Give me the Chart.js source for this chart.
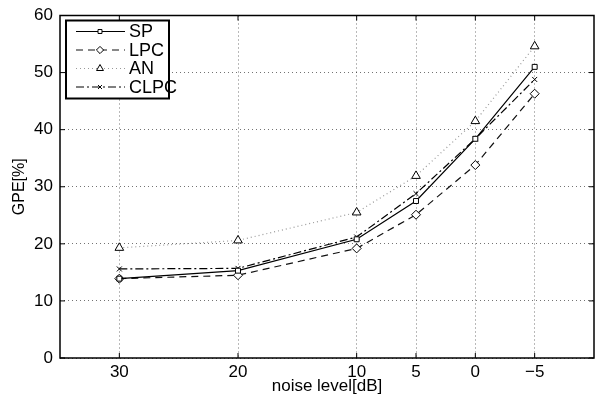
<!DOCTYPE html>
<html>
<head>
<meta charset="utf-8">
<script src="https://cdn.jsdelivr.net/npm/chart.js@4"></script>
<style>
  html, body { margin:0; padding:0; background:#fff; overflow:hidden; }
  #wrap { width:600px; height:397px; }
</style>
</head>
<body>
<div id="wrap"><canvas id="gpe" width="600" height="397"></canvas></div>
<script>
// noise levels (dB) and GPE values (%)
const noiseLevels = [30, 20, 10, 5, 0, -5];
const sp   = [13.9, 15.3, 20.8, 27.5, 38.4, 51.0];
const lpc  = [13.9, 14.5, 19.2, 25.1, 33.8, 46.3];
const an   = [19.3, 20.6, 25.5, 31.9, 41.5, 54.6];
const clpc = [15.6, 15.7, 21.2, 28.8, 38.4, 48.8];
const xTicks = [30, 20, 10, 5, 0, -5];
const yTicks = [0, 10, 20, 30, 40, 50, 60];

const FONT = 'Liberation Sans, Arial, Helvetica, sans-serif';

function pts(vals){ return noiseLevels.map((x,i)=>({x, y: vals[i]})); }

const series = [
  { label:'SP',   data: pts(sp),   borderColor:'#000', borderDash:[],         pointStyle:'rect',     pointRadius:3.5 },
  { label:'LPC',  data: pts(lpc),  borderColor:'#111', borderDash:[7,5],      pointStyle:'rectRot',  pointRadius:4.5 },
  { label:'AN',   data: pts(an),   borderColor:'#999', borderDash:[1,3],      pointStyle:'triangle', pointRadius:5 },
  { label:'CLPC', data: pts(clpc), borderColor:'#000', borderDash:[8,3,2,3],  pointStyle:'crossRot', pointRadius:3.5 }
].map(s => Object.assign({
  borderWidth:1.2, pointBorderColor:'#000', pointBackgroundColor:'#fff',
  pointBorderWidth:1, tension:0, fill:false
}, s));

// frame + inward ticks + boxed legend, matlab style
const framePlugin = {
  id:'frame',
  afterDraw(chart){
    const {ctx, chartArea:a, scales} = chart;
    ctx.save();
    ctx.strokeStyle = '#000';
    ctx.lineWidth = 1.5;
    ctx.setLineDash([]);
    ctx.strokeRect(a.left, a.top, a.right - a.left, a.bottom - a.top);
    ctx.lineWidth = 1;
    xTicks.forEach(v => {
      const x = scales.x.getPixelForValue(v);
      ctx.beginPath();
      ctx.moveTo(x, a.bottom); ctx.lineTo(x, a.bottom - 5);
      ctx.moveTo(x, a.top); ctx.lineTo(x, a.top + 5);
      ctx.stroke();
    });
    yTicks.forEach(v => {
      const y = scales.y.getPixelForValue(v);
      ctx.beginPath();
      ctx.moveTo(a.left, y); ctx.lineTo(a.left + 5, y);
      ctx.moveTo(a.right, y); ctx.lineTo(a.right - 5, y);
      ctx.stroke();
    });

    // legend
    const bx = a.left + 6, by = a.top + 5, bw = 103, bh = 78;
    ctx.fillStyle = '#fff';
    ctx.fillRect(bx, by, bw, bh);
    ctx.lineWidth = 2;
    ctx.strokeRect(bx, by, bw, bh);
    ctx.font = '18px ' + FONT;
    ctx.textBaseline = 'middle';
    chart.data.datasets.forEach((ds, i) => {
      const y = by + 11 + i * 18.5;
      ctx.strokeStyle = ds.borderColor;
      ctx.lineWidth = ds.label === 'LPC' ? 2 : 1;
      if (ds.label === 'LPC') ctx.strokeStyle = '#888';
      ctx.setLineDash(ds.borderDash);
      ctx.beginPath();
      ctx.moveTo(bx + 10, y); ctx.lineTo(bx + 59, y);
      ctx.stroke();
      ctx.setLineDash([]);
      ctx.strokeStyle = '#000';
      ctx.fillStyle = '#fff';
      ctx.lineWidth = 1;
      Chart.helpers.drawPoint(ctx, {pointStyle: ds.pointStyle, radius: ds.pointRadius * 0.8, borderWidth:1}, bx + 34, y);
      ctx.fillStyle = '#000';
      ctx.fillText(ds.label, bx + 63, y + 1);
    });
    ctx.restore();
  }
};

new Chart(document.getElementById('gpe'), {
  type:'line',
  data:{ datasets: series },
  options:{
    responsive:false,
    animation:false,
    layout:{ padding:{ top:14, right:0, left:0, bottom:0 } },
    plugins:{ legend:{ display:false }, tooltip:{ enabled:false } },
    scales:{
      x:{
        type:'linear', reverse:true, min:-10, max:35,
        afterBuildTicks: s => { s.ticks = xTicks.map(v => ({value:v})); },
        afterFit: s => { s.height = 39; },
        grid:{ color:'rgba(0,0,0,0.55)', lineWidth:1, drawTicks:false },
        border:{ display:false, dash:[1,3] },
        ticks:{ color:'#000', padding:6, font:{ family:FONT, size:17, lineHeight:1 },
          callback: v => v < 0 ? '\u2212' + Math.abs(v) : String(v) },
        title:{ display:true, text:'noise level[dB]', color:'#000', padding:{top:0, bottom:0},
          font:{ family:FONT, size:17 } }
      },
      y:{
        min:0, max:60,
        afterBuildTicks: s => { s.ticks = yTicks.map(v => ({value:v})); },
        afterFit: s => { s.width = 60; },
        grid:{ color:'rgba(0,0,0,0.55)', lineWidth:1, drawTicks:false },
        border:{ display:false, dash:[1,3] },
        ticks:{ color:'#000', padding:7, font:{ family:FONT, size:17, lineHeight:1 } },
        title:{ display:true, text:'GPE[%]', color:'#000', padding:{top:10, bottom:0},
          font:{ family:FONT, size:16 } }
      }
    }
  },
  plugins:[framePlugin]
});
</script>
</body>
</html>
